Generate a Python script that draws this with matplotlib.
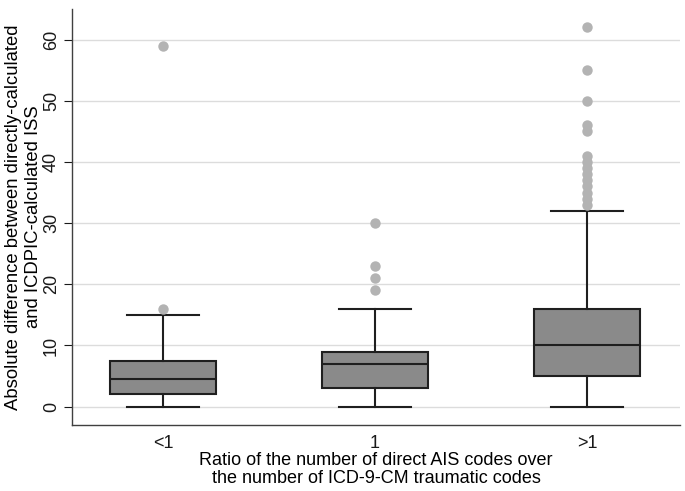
import matplotlib
matplotlib.use("Agg")
import matplotlib.pyplot as plt

plt.rcParams['font.family'] = ['Liberation Sans', 'DejaVu Sans']

groups = ['<1', '1', '>1']
whislo = [0, 0, 0]
q1 = [2, 3, 5]
med = [4.5, 7, 10]
q3 = [7.5, 9, 16]
whishi = [15, 16, 32]
fliers = [
    [16, 59],
    [19, 21, 23, 30],
    [33, 34, 35, 36, 37, 38, 39, 40, 41, 45, 46, 50, 55, 62],
]

stats = []
for i, g in enumerate(groups):
    stats.append(dict(label=g, whislo=whislo[i], q1=q1[i], med=med[i],
                      q3=q3[i], whishi=whishi[i], fliers=fliers[i]))

fig = plt.figure(figsize=(6.85, 4.91), dpi=100)
ax = fig.add_axes([0.105, 0.1344, 0.888, 0.8473])

edge = '#1f1f1f'
ax.bxp(stats, positions=[1, 2, 3], widths=0.5, patch_artist=True,
       boxprops=dict(facecolor='#8a8a8a', edgecolor=edge, linewidth=1.5),
       medianprops=dict(color=edge, linewidth=1.5),
       whiskerprops=dict(color=edge, linewidth=1.5),
       capprops=dict(color=edge, linewidth=1.5),
       capwidths=0.34,
       flierprops=dict(marker='o', markerfacecolor='#b3b3b3', markeredgecolor='none',
                       markersize=7.5))

ax.set_xlim(0.57, 3.44)
ax.set_ylim(-3, 65)
ax.set_yticks([0, 10, 20, 30, 40, 50, 60])
ax.yaxis.grid(True, color='#dcdcdc', linewidth=1)
ax.set_axisbelow(True)

for s in ['top', 'right']:
    ax.spines[s].set_visible(False)
for s in ['left', 'bottom']:
    ax.spines[s].set_color('#404040')
    ax.spines[s].set_linewidth(1)

ax.tick_params(axis='x', length=0, labelsize=13, pad=7, colors='#1a1a1a')
ax.tick_params(axis='y', length=5.5, labelsize=13, pad=3, colors='#1a1a1a')
for lab in ax.get_yticklabels():
    lab.set_rotation(90)
    lab.set_va('center')

ax.set_ylabel('Absolute difference between directly-calculated\nand ICDPIC-calculated ISS',
              fontsize=13.3, linespacing=1.2, labelpad=1)
ax.set_xlabel('Ratio of the number of direct AIS codes over\nthe number of ICD-9-CM traumatic codes',
              fontsize=13, linespacing=1.1, labelpad=0)

fig.savefig('out.png', dpi=100)
